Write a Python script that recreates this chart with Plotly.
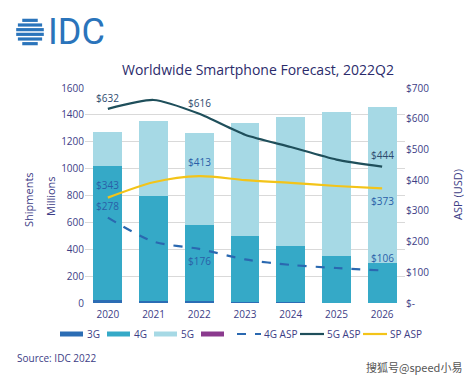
import math
import plotly.graph_objects as go

years = ["2020", "2021", "2022", "2023", "2024", "2025", "2026"]
ship_3g = [25, 17, 13, 8, 5, 3, 2]
ship_4g = [994, 781, 567, 488, 422, 347, 298]
ship_5g = [255, 556, 687, 841, 957, 1073, 1158]
ship_other = [0, 0, 0, 0, 0, 0, 0]
asp_4g = [278, 200, 176, 142, 124, 114, 106]
asp_5g = [632, 661, 616, 548, 508, 467, 444]
asp_sp = [343, 393, 413, 400, 391, 381, 373]

left_ticks = [0, 200, 400, 600, 800, 1000, 1200, 1400, 1600]
right_ticks = [0, 100, 200, 300, 400, 500, 600, 700]
right_text = ["$-", "$100", "$200", "$300", "$400", "$500", "$600", "$700"]

FONT = "Open Sans, Noto Sans, sans-serif"
TXT = "#3d3d86"
C3G = "#2c6db4"
C4G = "#35a9c7"
C5G = "#a6d9e5"
CPUR = "#8b3a8e"
C5GL = "#1f4f5b"
CSP = "#f3c419"
C4GL = "#2a68b0"

# plot area in reference (window) pixels
L, R, T, B = 85, 405, 88, 303
W, H = 474, 377
OFF = 8  # page body margin offset


def pp(x, y):
    return (x - L) / (R - L), (B - y) / (B - T)


annotations = []
shapes = []

fig = go.Figure()
fig.add_bar(x=years, y=ship_3g, name="3G", marker_color=C3G, marker_line_width=0)
fig.add_bar(x=years, y=ship_4g, name="4G", marker_color=C4G, marker_line_width=0)
fig.add_bar(x=years, y=ship_5g, name="5G", marker_color=C5G, marker_line_width=0)
fig.add_bar(x=years, y=ship_other, name=" ", marker_color=CPUR, marker_line_width=0)
fig.add_scatter(x=years, y=asp_4g, name="4G ASP", mode="lines", yaxis="y2",
                line=dict(color=C4GL, width=2.2, dash="dash", shape="spline", smoothing=0.8))
fig.add_scatter(x=years, y=asp_5g, name="5G ASP", mode="lines", yaxis="y2",
                line=dict(color=C5GL, width=2.2, shape="spline", smoothing=0.6))
fig.add_scatter(x=years, y=asp_sp, name="SP ASP", mode="lines", yaxis="y2",
                line=dict(color=CSP, width=2.2, shape="spline", smoothing=0.8))


def lab(i, series, dy, color):
    annotations.append(dict(x=i, y=series[i], xref="x", yref="y2", text=f"${series[i]}",
                            showarrow=False, yshift=dy,
                            font=dict(size=10, color=color, family=FONT)))


lab(0, asp_5g, 11, "#2d4a6e")
lab(2, asp_5g, 11, "#2d4a6e")
lab(6, asp_5g, 12, "#2d4a6e")
lab(0, asp_sp, 13, "#2a5fa8")
lab(2, asp_sp, 14, "#2a5fa8")
lab(6, asp_sp, -13, "#2a5fa8")
lab(0, asp_4g, 12, "#2a5fa8")
lab(2, asp_4g, -12, "#2a5fa8")
lab(6, asp_4g, 12, "#2a5fa8")


def ptext(txt, px, py, size=11, angle=0, anchor="center", color=TXT, family=FONT):
    ax, ay = pp(px, py)
    annotations.append(dict(x=ax, y=ay, xref="paper", yref="paper", text=txt, showarrow=False,
                            textangle=angle, xanchor=anchor, yanchor="middle",
                            font=dict(size=size, color=color, family=family)))


ptext("Shipments", 28, 200, angle=-90)
ptext("Millions", 50, 196, angle=-90)
ptext("ASP (USD)", 457, 195, angle=-90)
ptext("Source: IDC 2022", 15, 358, size=10, anchor="left")
ptext("搜狐号@speed小易", 464, 367, size=11, anchor="right", color="#555555",
      family="Noto Sans CJK SC")
ptext("IDC", 46, 32, size=36, anchor="left", color="#2a74bb", family="Roboto, sans-serif")

# IDC globe mark
cx, cy, r = 30, 32, 14
for k in range(6):
    yy = cy - r + (k + 0.5) * (2 * r / 6)
    half = math.sqrt(max(r * r - (yy - cy) ** 2, 0))
    x0, y0 = pp(cx - half, yy)
    x1, _ = pp(cx + half, yy)
    shapes.append(dict(type="line", xref="paper", yref="paper", x0=x0, x1=x1, y0=y0, y1=y0,
                       line=dict(color="#2a74bb", width=3.2)))

# Legend (drawn manually to match the wide swatches)
legend_items = [
    ("3G", C3G, "bar", 60),
    ("4G", C4G, "bar", 107),
    ("5G", C5G, "bar", 154),
    ("", CPUR, "bar", 201),
    ("4G ASP", C4GL, "dash", 237),
    ("5G ASP", C5GL, "solid", 300),
    ("SP ASP", CSP, "solid", 363),
]
ly = 334
for name, col, kind, x in legend_items:
    if kind == "bar":
        x0, y0 = pp(x, ly - 2.5)
        x1, y1 = pp(x + 23, ly + 2.5)
        shapes.append(dict(type="rect", xref="paper", yref="paper", x0=x0, x1=x1, y0=y1, y1=y0,
                           fillcolor=col, line=dict(width=0)))
    else:
        x0, y0 = pp(x, ly)
        x1, _ = pp(x + 24, ly)
        shapes.append(dict(type="line", xref="paper", yref="paper", x0=x0, x1=x1, y0=y0, y1=y0,
                           line=dict(color=col, width=2.2, dash="dash" if kind == "dash" else "solid")))
    if name:
        ptext(name, x + 25, ly, size=10, anchor="left")

fig.update_layout(
    width=W, height=H,
    margin=dict(l=L - OFF, r=W - (R - OFF), t=T - OFF, b=H - (B - OFF), autoexpand=False),
    paper_bgcolor="white", plot_bgcolor="white",
    barmode="stack", bargap=0.37,
    showlegend=False,
    font=dict(family=FONT, color=TXT, size=10),
    title=dict(text="Worldwide Smartphone Forecast, 2022Q2", x=(258 - OFF) / W, xanchor="center",
               y=1 - (70 - OFF) / H, yanchor="middle",
               font=dict(size=14, color="#2b2b6b", family=FONT)),
    xaxis=dict(type="category", range=[-0.5, 6.5], showgrid=False, showline=False,
               ticks="", tickfont=dict(size=10, color=TXT), ticklabelstandoff=4),
    yaxis=dict(range=[0, 1600], tickvals=left_ticks, showgrid=True, gridcolor="#d9d9d9",
               gridwidth=1, zeroline=False, tickfont=dict(size=10, color=TXT)),
    yaxis2=dict(range=[0, 700], overlaying="y", side="right", tickvals=right_ticks,
                ticktext=right_text, showgrid=False, zeroline=False,
                tickfont=dict(size=10, color=TXT)),
    annotations=annotations,
    shapes=shapes,
)

fig.write_html("out.html")
